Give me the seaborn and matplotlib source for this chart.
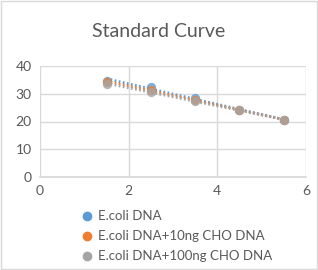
import matplotlib
matplotlib.use('Agg')
import matplotlib.pyplot as plt
import numpy as np
import pandas as pd
import seaborn as sns

# --- data ---
x_vals = [1.5, 2.5, 3.5, 4.5, 5.5]
ecoli = [34.7, 32.5, 28.4, 24.0, 20.6]
ecoli_10ng = [34.3, 31.2, 27.8, 24.1, 20.6]
ecoli_100ng = [33.5, 30.7, 27.4, 24.0, 20.6]
series_names = ['E.coli DNA', 'E.coli DNA+10ng CHO DNA', 'E.coli DNA+100ng CHO DNA']
colors = ['#5B9BD5', '#ED7D31', '#A5A5A5']
x_ticks = [0, 2, 4, 6]
y_ticks = [0, 10, 20, 30, 40]

sns.set_theme(style="white")
plt.rcParams['font.family'] = ['Lato', 'DejaVu Sans']

fig = plt.figure(figsize=(3.18, 2.7), dpi=100)
ax = fig.add_axes([0.126, 0.344, 0.836, 0.412])

handles = []
for ys, name, c in zip([ecoli, ecoli_10ng, ecoli_100ng], series_names, colors):
    df = pd.DataFrame({'x': x_vals, 'y': ys})
    sns.regplot(data=df, x='x', y='y', ax=ax, ci=None, truncate=True,
                scatter_kws={'s': 45, 'color': c, 'zorder': 3, 'linewidths': 0},
                line_kws={'color': c, 'lw': 2, 'linestyle': (0, (0.6, 0.9)), 'zorder': 2})
    handles.append(plt.Line2D([], [], marker='o', color=c, linestyle='none', markersize=6, label=name))

ax.set_xlim(0, 6)
ax.set_ylim(0, 40)
ax.set_xticks(x_ticks)
ax.set_yticks(y_ticks)
ax.set_xlabel('')
ax.set_ylabel('')
ax.grid(True, color='#D9D9D9', lw=1)
ax.set_axisbelow(True)
for s in ['top', 'right', 'left']:
    ax.spines[s].set_visible(False)
ax.spines['bottom'].set_color('#D9D9D9')
ax.tick_params(axis='both', length=0, labelsize=10, colors='#595959', pad=6)

fig.text(0.5, 0.885, 'Standard Curve', ha='center', va='center', fontsize=14, color='#595959')

fig.legend(handles=handles, loc='upper left', bbox_to_anchor=(0.235, 0.24), frameon=False,
           fontsize=9.5, labelcolor='#595959', handletextpad=0.4, labelspacing=0.6,
           borderaxespad=0, handlelength=1.0)

# chart border
fig.patches.append(plt.Rectangle((0.004, 0.004), 0.992, 0.992, transform=fig.transFigure,
                                 fill=False, edgecolor='#D9D9D9', lw=1))

fig.savefig('out.png', dpi=100)
